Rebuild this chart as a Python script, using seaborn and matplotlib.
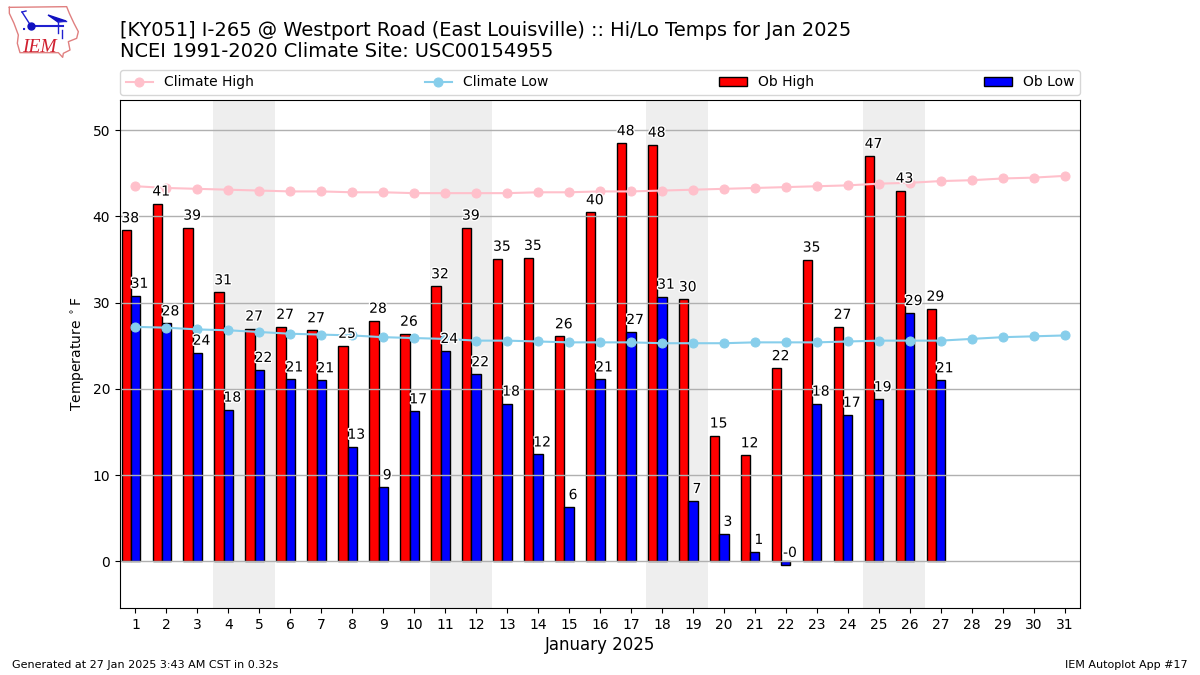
import numpy as np
import pandas as pd
import matplotlib
matplotlib.use('Agg')
import matplotlib.pyplot as plt
import matplotlib.patheffects as pe
import seaborn as sns

TITLE = "[KY051] I-265 @ Westport Road (East Louisville) :: Hi/Lo Temps for Jan 2025\nNCEI 1991-2020 Climate Site: USC00154955"

days = np.arange(1, 32)
clim_high = [43.5, 43.3, 43.2, 43.1, 43.0, 42.9, 42.9, 42.8, 42.8, 42.7, 42.7,
             42.7, 42.7, 42.8, 42.8, 42.9, 42.9, 43.0, 43.1, 43.2, 43.3, 43.4,
             43.5, 43.6, 43.8, 43.9, 44.1, 44.2, 44.4, 44.5, 44.7]
clim_low = [27.2, 27.1, 26.9, 26.8, 26.6, 26.4, 26.3, 26.2, 26.0, 25.9, 25.8,
            25.6, 25.6, 25.5, 25.4, 25.4, 25.4, 25.3, 25.3, 25.3, 25.4, 25.4,
            25.4, 25.5, 25.6, 25.6, 25.6, 25.8, 26.0, 26.1, 26.2]

ob_days = np.arange(1, 28)
ob_high = [38.4, 41.49, 38.7, 31.2, 27.0, 27.2, 26.8, 25.0, 27.9, 26.4, 31.9,
           38.7, 35.1, 35.2, 26.1, 40.49, 48.5, 48.3, 30.4, 14.6, 12.3, 22.4,
           35.0, 27.2, 47.0, 43.0, 29.3]
ob_low = [30.8, 27.6, 24.2, 17.6, 22.2, 21.1, 21.0, 13.3, 8.6, 17.4, 24.4,
          21.7, 18.3, 12.4, 6.3, 21.1, 26.6, 30.7, 7.0, 3.2, 1.1, -0.4,
          18.3, 17.0, 18.8, 28.8, 21.0]
weekends = [(3.5, 5.5), (10.5, 12.5), (17.5, 19.5), (24.5, 26.5)]

BAR_W = 0.3


def draw_logo(fig):
    # rough version of the IEM logo, in pixel units
    ax = fig.add_axes([0, 1 - 60 / 675, 80 / 1200, 60 / 675])
    ax.set_xlim(0, 80)
    ax.set_ylim(60, 0)
    ax.axis('off')
    border = np.array([(28, 22), (200, 20), (208, 40), (222, 70), (235, 95),
                       (230, 115), (205, 125), (210, 150), (190, 160),
                       (188, 172), (175, 158), (60, 158), (52, 130), (55, 105),
                       (42, 70), (28, 40), (28, 22)]) / 3
    ax.plot(border[:, 0], border[:, 1], color='#e08080', lw=1)
    ax.plot([31, 63], [26, 26], color='#2020d0', lw=1.5)
    ax.plot([22, 31], [12, 26], color='#2020d0', lw=1)
    ax.plot([22, 26], [12, 11], color='#2020d0', lw=1)
    ax.plot([31], [26], 'o', color='#1010c0', ms=5)
    ax.fill([48, 66, 58], [15, 21, 22], color='#1010c0')
    ax.plot([58, 66], [21, 21], color='#2020d0', lw=1)
    ax.plot([58, 58], [22, 33], color='#2020d0', lw=1)
    ax.plot([62, 62], [30, 38], color='#2020d0', lw=1)
    ax.plot([23, 27], [29, 29], ls=':', color='#2020d0', lw=1.5)
    ax.text(22, 52, 'IEM', family='Liberation Serif', style='italic',
            color='#d02030', fontsize=14)


def main():
    fig = plt.figure(figsize=(12, 6.75), dpi=100)
    ax = fig.add_axes([120 / 1200, 1 - 608 / 675, 960 / 1200, 508 / 675])

    for start, end in weekends:
        ax.axvspan(start, end, color='#eeeeee', lw=0, zorder=0)
    # grid sits on top of the bars but under the climate lines
    ax.grid(axis='y', color='#b0b0b0', lw=1)
    ax.set_axisbelow('line')

    sns.barplot(x=ob_days - BAR_W, y=ob_high, native_scale=True, width=BAR_W,
                color='red', saturation=1, edgecolor='k', linewidth=1,
                errorbar=None, label='Ob High', ax=ax, zorder=1)
    sns.barplot(x=ob_days.astype(float), y=ob_low, native_scale=True, width=BAR_W,
                color='blue', saturation=1, edgecolor='k', linewidth=1,
                errorbar=None, label='Ob Low', ax=ax, zorder=1)

    clim = pd.DataFrame({'day': days, 'high': clim_high, 'low': clim_low})
    sns.lineplot(data=clim, x='day', y='high', color='pink', marker='o', ms=6.5,
                 mec='pink', lw=1.5, label='Climate High', ax=ax, zorder=3)
    sns.lineplot(data=clim, x='day', y='low', color='skyblue', marker='o', ms=6.5,
                 mec='skyblue', lw=1.5, label='Climate Low', ax=ax, zorder=3)

    halo = [pe.withStroke(linewidth=2, foreground='white')]
    for d, hi, lo in zip(ob_days, ob_high, ob_low):
        ax.text(d - BAR_W + 0.13, hi + 0.58, f'{hi:.0f}', ha='center', va='bottom',
                fontsize=10, path_effects=halo, zorder=4)
        ax.text(d + 0.13, lo + 0.58, f'{lo:.0f}', ha='center', va='bottom',
                fontsize=10, path_effects=halo, zorder=4)

    ax.set_xlim(0.5, 31.5)
    ax.set_ylim(-5.4, 53.5)
    ax.set_xticks(days)
    ax.set_xticklabels([str(d) for d in days])
    ax.set_yticks(range(0, 51, 10))
    ax.tick_params(labelsize=10)
    ax.set_xlabel('January 2025', fontsize=12, labelpad=3)
    ax.set_ylabel(r'Temperature $^\circ$F', fontsize=10)

    handles, labels = ax.get_legend_handles_labels()
    order = [labels.index(n) for n in ['Climate High', 'Climate Low', 'Ob High', 'Ob Low']]
    ax.get_legend().remove()
    fig.legend([handles[i] for i in order], [labels[i] for i in order], ncol=4,
               mode='expand', loc='lower left', borderaxespad=0, fontsize=10,
               bbox_to_anchor=(120 / 1200, 1 - 95 / 675, 960 / 1200, 26 / 675))

    fig.text(120 / 1200, 1 - 61 / 675, TITLE, fontsize=13.98, va='bottom', ha='left',
             linespacing=1.14)
    fig.text(12 / 1200, 1 - 670 / 675, 'Generated at 27 Jan 2025 3:43 AM CST in 0.32s',
             fontsize=8, va='bottom')
    fig.text(1188 / 1200, 1 - 670 / 675, 'IEM Autoplot App #17', fontsize=8,
             va='bottom', ha='right')
    draw_logo(fig)

    fig.savefig('out.png', dpi=100)


if __name__ == '__main__':
    main()
